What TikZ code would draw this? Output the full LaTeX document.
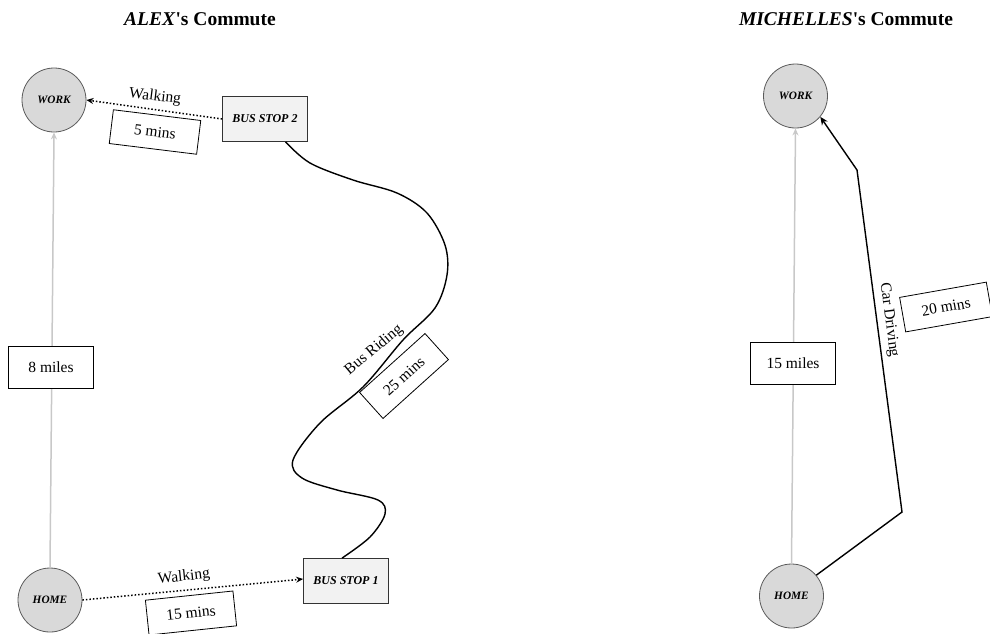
\documentclass[tikz,border=0pt]{standalone}
\usepackage{fontspec}
\setmainfont{Liberation Serif}
\usetikzlibrary{arrows.meta,calc}
\definecolor{circfill}{HTML}{D9D9D9}
\definecolor{circline}{HTML}{5A5A5A}
\definecolor{stopfill}{HTML}{F2F2F2}
\definecolor{distline}{HTML}{C8C8C8}
\begin{document}
\begin{tikzpicture}[x=1pt,y=-1pt,
  place/.style={circle,draw=circline,fill=circfill,line width=0.8pt,minimum size=64pt,inner sep=0pt,font=\fontsize{11.3}{13}\selectfont\bfseries\itshape},
  stopbox/.style={rectangle,draw=black!80,fill=stopfill,line width=0.8pt,minimum width=85pt,minimum height=45pt,inner sep=0pt,font=\fontsize{12}{14}\selectfont\bfseries\itshape},
  valbox/.style={rectangle,draw=black,fill=white,line width=0.8pt,minimum width=88pt,minimum height=34pt,inner sep=0pt,font=\fontsize{15.5}{18}\selectfont},
  distbox/.style={rectangle,draw=black,fill=white,line width=0.8pt,minimum width=85pt,minimum height=42pt,inner sep=0pt,font=\fontsize{15.5}{18}\selectfont},
  lbl/.style={inner sep=0pt,font=\fontsize{15.5}{18}\selectfont},
  ttl/.style={inner sep=0pt,font=\fontsize{19.5}{22}\selectfont\bfseries},
  distarrow/.style={draw=distline,line width=1.5pt,-{Stealth[length=7pt,width=6pt]}},
  walk/.style={draw=black,line width=1.5pt,dotted,-{Stealth[length=7pt,width=6pt]}},
  ride/.style={draw=black,line width=1.4pt},
  drive/.style={draw=black,line width=1.4pt,-{Stealth[length=8pt,width=7pt]}}
]
\useasboundingbox (0,0) rectangle (990,633);

% titles
\node[ttl] (t1) at (200,19) {\textit{ALEX}\textquotesingle s Commute};
\node[ttl] (t2) at (846,19) {\textit{MICHELLES}\textquotesingle s Commute};

% Alex
\node[place] (awork) at (54,100) {WORK};
\node[place] (ahome) at (50,600) {HOME};
\node[stopbox] (bs2) at (265,119) {BUS STOP 2};
\node[stopbox] (bs1) at (346,581) {BUS STOP 1};

\draw[distarrow] (ahome.north) -- (awork.south);
\node[distbox] (d8) at (51,367) {8 miles};

\draw[walk] (bs2.west) -- (awork.east);
\node[lbl,rotate=-7] (w2) at (155,97) {Walking};
\node[valbox,rotate=-7] (m5) at (155,132) {5 mins};

\draw[walk] (ahome.east) -- ($(bs1.west)+(0,-2)$);
\node[lbl,rotate=6] (w1) at (184,577) {Walking};
\node[valbox,rotate=6,minimum height=35pt] (m15) at (191,613) {15 mins};

\draw[ride] plot[smooth,tension=0.55] coordinates {
  ($(bs2.south east)!0.26!(bs2.south west)$) (310,163) (353,180) (397,193) (427,213) (445,245) (447,275) (435,308) (403,340) (363,387) (320,423) (293,460) (302,478) (337,490) (378,500) (385,514) (370,537) ($(bs1.north)+(-4,0)$)};
\node[lbl,rotate=40] (br) at (374,350) {Bus Riding};
\node[valbox,rotate=42,minimum height=35pt] (m25) at (404,376) {25 mins};

% Michelle
\node[place] (mwork) at (795.5,96) {WORK};
\node[place] (mhome) at (791.5,596) {HOME};

\draw[distarrow] (mhome.north) -- (mwork.south);
\node[distbox] (d15) at (793,363) {15 miles};

\coordinate (c1) at (902,512);
\coordinate (c2) at (857,170);
\draw[drive] (mhome.40) -- (c1) -- (c2) -- (mwork.-40);
\node[lbl,rotate=-82.5] (cd) at (889,320) {Car Driving};
\node[valbox,rotate=10,minimum height=35pt] (m20) at (946,307) {20 mins};
\end{tikzpicture}
\end{document}
